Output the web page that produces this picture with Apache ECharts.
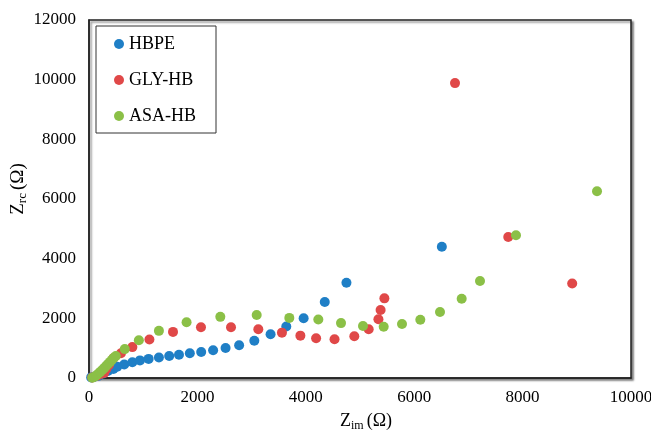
<!DOCTYPE html>
<html>
<head>
<meta charset="utf-8">
<script src="https://cdn.jsdelivr.net/npm/echarts@6/dist/echarts.min.js"></script>
<style>
html,body{margin:0;padding:0;background:#fff;}
#chart{width:651px;height:435px;}
</style>
</head>
<body>
<div id="chart"></div>
<script>
// Series names
var seriesNames = ['HBPE', 'GLY-HB', 'ASA-HB'];
// Axis ticks
var xTicks = [0, 2000, 4000, 6000, 8000, 10000];
var yTicks = [0, 2000, 4000, 6000, 8000, 10000, 12000];
// HBPE: [Zim, Zrc]
var hbpe = [
  [40, 20], [100, 40], [180, 75], [265, 155], [350, 235], [450, 300], [520, 380],
  [650, 455], [800, 525], [940, 590], [1100, 640], [1290, 685], [1480, 740],
  [1660, 780], [1860, 830], [2070, 870], [2290, 930], [2520, 1005], [2770, 1100],
  [3050, 1250], [3350, 1465], [3640, 1725], [3960, 2000], [4350, 2550],
  [4750, 3190], [6510, 4400]
];
// GLY-HB
var glyhb = [
  [60, 20], [150, 80], [210, 130], [280, 170], [320, 300], [370, 440], [450, 660],
  [590, 830], [800, 1035], [1115, 1290], [1550, 1545], [2066, 1700], [2620, 1700],
  [3124, 1632], [3560, 1520], [3900, 1420], [4190, 1330], [4530, 1300],
  [4895, 1400], [5160, 1632], [5340, 1967], [5380, 2280], [5450, 2670],
  [6753, 9885], [7735, 4728], [8915, 3165]
];
// ASA-HB
var asahb = [
  [60, 10], [100, 40], [140, 90], [175, 150], [210, 210], [245, 270], [280, 330],
  [315, 400], [350, 470], [390, 540], [425, 610], [460, 680], [495, 735],
  [660, 968], [920, 1263], [1290, 1580], [1800, 1870], [2423, 2050], [3094, 2110],
  [3696, 2015], [4231, 1960], [4650, 1840], [5055, 1743], [5437, 1720],
  [5775, 1810], [6113, 1955], [6476, 2212], [6876, 2658], [7214, 3251],
  [7878, 4783], [9373, 6258]
];
var colors = ['#1F7FC6', '#E04848', '#8BC047'];

var chart = echarts.init(document.getElementById('chart'), null, {renderer: 'canvas'});
var font = 'Liberation Serif, Times New Roman, serif';
function plain(v) { return String(v); }
var option = {
  backgroundColor: '#fff',
  animation: false,
  color: colors,
  textStyle: {fontFamily: font, color: '#000'},
  grid: {
    left: 89, top: 20, right: 20, bottom: 57,
    containLabel: false, outerBoundsMode: 'none',
    show: true, borderColor: '#222', borderWidth: 1.5, backgroundColor: '#fff',
    shadowColor: 'rgba(0,0,0,0.45)', shadowBlur: 2, shadowOffsetX: 2, shadowOffsetY: 2
  },
  legend: {
    orient: 'vertical', left: 96, top: 26,
    padding: [9, 20, 8, 18], itemGap: 18,
    itemWidth: 10, itemHeight: 10, icon: 'circle',
    borderColor: '#333', borderWidth: 1,
    textStyle: {fontFamily: font, fontSize: 18, color: '#000'},
    data: seriesNames
  },
  xAxis: {
    type: 'value', min: xTicks[0], max: xTicks[xTicks.length - 1], interval: 2000,
    axisLine: {show: true, lineStyle: {color: '#222', width: 1.5}},
    axisTick: {show: false}, splitLine: {show: false},
    axisLabel: {fontFamily: font, fontSize: 17, color: '#000', margin: 11, formatter: plain},
    name: '{z|Z}{s|im} {z|(Ω)}', nameLocation: 'middle', nameGap: 33,
    nameMoveOverlap: false,
    nameTextStyle: {
      padding: [0, 0, 0, 12],
      rich: {
        z: {fontFamily: font, fontSize: 18, color: '#000'},
        s: {fontFamily: font, fontSize: 12, color: '#000', padding: [9, 0, 0, 0]}
      }
    }
  },
  yAxis: {
    type: 'value', min: yTicks[0], max: yTicks[yTicks.length - 1], interval: 2000,
    axisLine: {show: true, lineStyle: {color: '#222', width: 1.5}},
    axisTick: {show: false}, splitLine: {show: false},
    axisLabel: {fontFamily: font, fontSize: 17, color: '#000', margin: 13, formatter: plain},
    name: '{z|Z}{s|rc} {z|(Ω)}', nameLocation: 'middle', nameGap: 60,
    nameMoveOverlap: false,
    nameTextStyle: {
      padding: [0, 0, 0, 20],
      rich: {
        z: {fontFamily: font, fontSize: 19, color: '#000'},
        s: {fontFamily: font, fontSize: 13, color: '#000', padding: [9, 0, 0, 0]}
      }
    }
  },
  series: [
    {name: seriesNames[0], type: 'scatter', symbolSize: 10, data: hbpe, itemStyle: {color: colors[0], opacity: 1}},
    {name: seriesNames[1], type: 'scatter', symbolSize: 10, data: glyhb, itemStyle: {color: colors[1], opacity: 1}},
    {name: seriesNames[2], type: 'scatter', symbolSize: 10, data: asahb, itemStyle: {color: colors[2], opacity: 1}}
  ]
};
chart.setOption(option);
</script>
</body>
</html>
